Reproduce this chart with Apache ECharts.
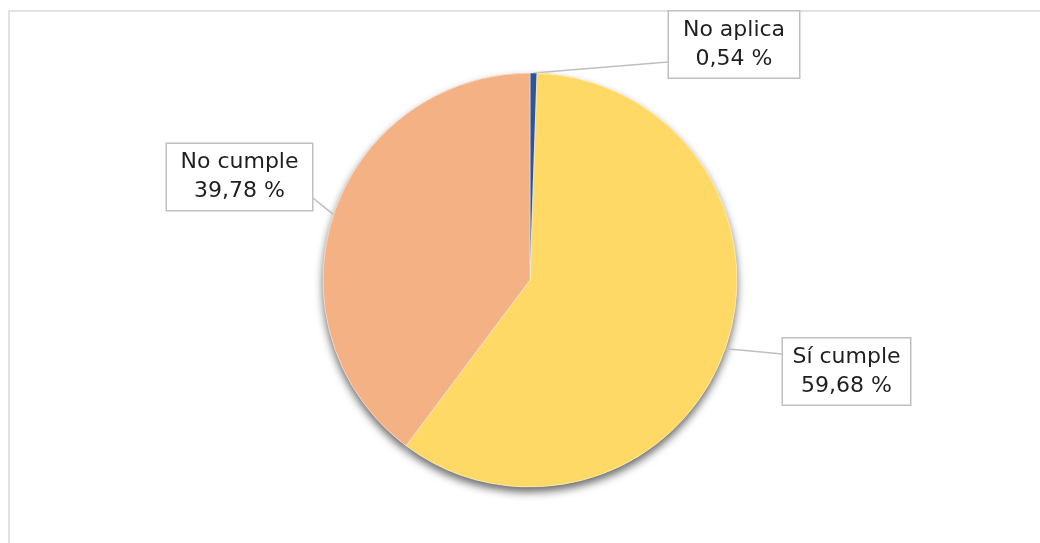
<!DOCTYPE html>
<html>
<head>
<meta charset="utf-8">
<script src="https://cdn.jsdelivr.net/npm/echarts@6/dist/echarts.min.js"></script>
<style>
html,body{margin:0;padding:0;background:#fff;}
#chart{width:1040px;height:543px;}
</style>
</head>
<body>
<div id="chart"></div>
<script>
const categories = ['No aplica', 'Sí cumple', 'No cumple'];
const values = [0.54, 59.68, 39.78];
const colors = ['#2F5597', '#FFD966', '#F4B183'];

// label box placement (centre x, centre y, content width, pointer end on box) per slice index
const labelBoxes = [
  {x: 734, y: 44.5, w: 114, px: 668, py: 62},
  {x: 846.5, y: 371.5, w: 111, px: 782, py: 354},
  {x: 239.5, y: 177, w: 129, px: 313, py: 198}
];

const fmt = v => v.toFixed(2).replace('.', ',') + ' %';
const data = categories.map((c, i) => ({name: c, value: values[i], itemStyle: {color: colors[i]}}));

const chart = echarts.init(document.getElementById('chart'), null, {renderer: 'canvas'});
chart.setOption({
  animation: false,
  backgroundColor: '#fff',
  graphic: [{
    type: 'rect', z: -10,
    shape: {x: 9, y: 11, width: 1100, height: 600},
    style: {fill: 'none', stroke: '#d9d9d9', lineWidth: 1.5}
  }],
  series: [
    {
      type: 'pie', silent: true, z: 1,
      center: [530, 280], radius: 207, startAngle: 90, clockwise: true,
      data: data,
      label: {show: false}, labelLine: {show: false},
      itemStyle: {shadowBlur: 8, shadowOffsetY: 5, shadowOffsetX: 0, shadowColor: 'rgba(0,0,0,0.6)'}
    },
    {
      type: 'pie', z: 2,
      center: [530, 280], radius: 207, startAngle: 90, clockwise: true,
      data: data,
      itemStyle: {borderColor: 'rgba(255,255,255,0.6)', borderWidth: 0.8},
      label: {
        show: true, position: 'outside',
        formatter: p => p.name + '\n' + fmt(p.value),
        fontFamily: 'DejaVu Sans', fontSize: 22, lineHeight: 29, color: '#1f1f1f',
        align: 'center',
        backgroundColor: '#ffffff', borderColor: '#bfbfbf', borderWidth: 1.5,
        padding: [4, 8]
      },
      labelLine: {show: true, lineStyle: {color: '#bfbfbf', width: 1.5}, length: 20, length2: 20},
      labelLayout: function (params) {
        const b = labelBoxes[params.dataIndex];
        const start = params.labelLinePoints ? params.labelLinePoints[0] : null;
        const out = {x: b.x, y: b.y, align: 'center', verticalAlign: 'middle', width: b.w};
        if (start) {
          out.labelLinePoints = [start, [(start[0] + b.px) / 2, (start[1] + b.py) / 2], [b.px, b.py]];
        }
        return out;
      }
    }
  ]
});
</script>
</body>
</html>
